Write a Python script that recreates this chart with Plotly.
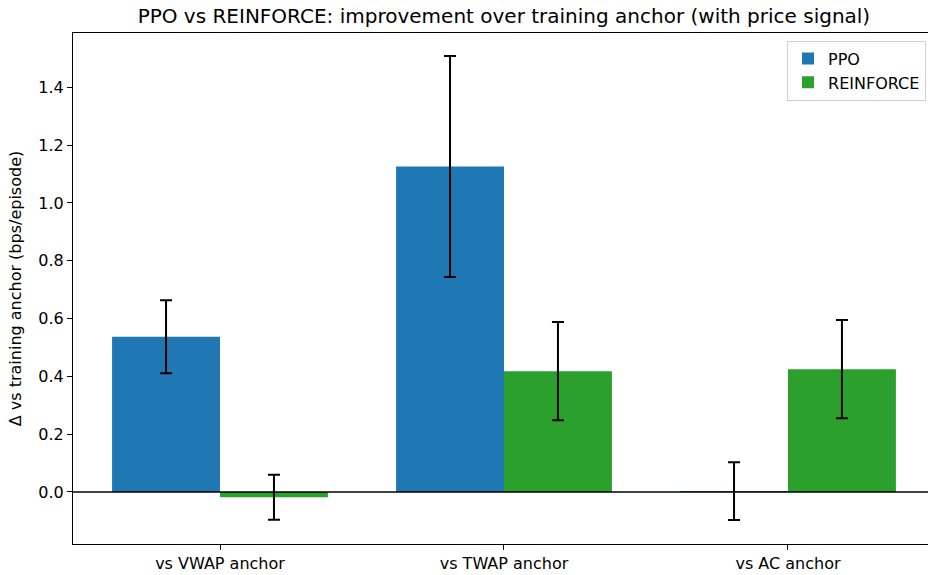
import plotly.graph_objects as go

categories = ["vs VWAP anchor", "vs TWAP anchor", "vs AC anchor"]
ppo_values = [0.537, 1.126, 0.003]
ppo_errors = [0.126, 0.382, 0.100]
reinforce_values = [-0.018, 0.418, 0.425]
reinforce_errors = [0.078, 0.170, 0.170]
series_names = ["PPO", "REINFORCE"]
y_ticks = [0.0, 0.2, 0.4, 0.6, 0.8, 1.0, 1.2, 1.4]

FONT = "DejaVu Sans, Liberation Sans, sans-serif"

W, H = 928, 575

fig = go.Figure()
fig.add_trace(go.Bar(
    x=categories, y=ppo_values, name=series_names[0],
    marker=dict(color="#1f77b4", line=dict(width=0)),
    error_y=dict(type="data", array=ppo_errors, color="black", thickness=2, width=6),
))
fig.add_trace(go.Bar(
    x=categories, y=reinforce_values, name=series_names[1],
    marker=dict(color="#2ca02c", line=dict(width=0)),
    error_y=dict(type="data", array=reinforce_errors, color="black", thickness=2, width=6),
))

fig.add_shape(type="line", xref="paper", yref="y", x0=0, x1=1, y0=0, y1=0,
              line=dict(color="black", width=1.3), layer="above")

fig.update_layout(
    width=W, height=H,
    margin=dict(l=73, r=0, t=33, b=31, autoexpand=False),
    paper_bgcolor="white", plot_bgcolor="white",
    barmode="group", bargap=0.24, bargroupgap=0,
    font=dict(family=FONT, size=16, color="black"),
    title=dict(text="PPO vs REINFORCE: improvement over training anchor (with price signal)",
               x=0.504, xref="paper", xanchor="center",
               y=1 - 16 / H, yref="container", yanchor="middle",
               font=dict(size=20, family=FONT, color="black")),
    legend=dict(x=0.9977, y=0.985, xanchor="right", yanchor="top",
                bordercolor="#d0d0d0", borderwidth=1, bgcolor="rgba(255,255,255,0.8)",
                font=dict(size=16, family=FONT), tracegroupgap=2,
                itemwidth=30),
    showlegend=True,
)
fig.update_xaxes(
    type="category", range=[-0.5176, 2.493], automargin=False,
    showline=True, linecolor="black", linewidth=1.2, mirror=True,
    ticks="outside", ticklen=5, tickcolor="black", tickwidth=1.2,
    showgrid=False, zeroline=False,
    tickfont=dict(size=16, family=FONT),
)
fig.update_yaxes(
    range=[-0.18, 1.588], automargin=False,
    tickvals=y_ticks, ticktext=[f"{v:.1f}" for v in y_ticks],
    showline=True, linecolor="black", linewidth=1.2, mirror=True,
    ticks="outside", ticklen=5, tickcolor="black", tickwidth=1.2,
    showgrid=False, zeroline=False,
    tickfont=dict(size=16, family=FONT),
    title=dict(text="Δ vs training anchor (bps/episode)", standoff=12,
               font=dict(size=16, family=FONT)),
)

fig.write_html("out.html",
               config={"displayModeBar": False},
               post_script="document.body.style.margin='0px';document.body.style.overflow='hidden';")
